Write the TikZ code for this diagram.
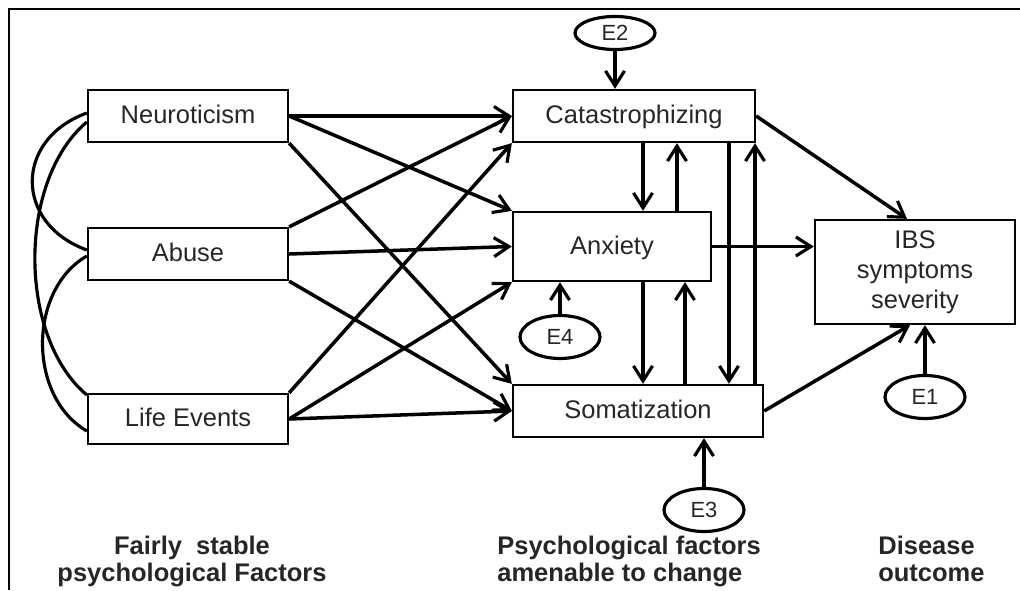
\documentclass[tikz,border=0pt]{standalone}
\usepackage{fontspec}
\setmainfont{Liberation Sans}
\usetikzlibrary{shapes.geometric,arrows.meta,positioning,calc}

\tikzset{
  boxbase/.style={draw, rectangle, line width=1.3pt, minimum height=1.04cm, inner sep=2pt,
    font=\fontsize{14.5}{17.2}\selectfont, text=black!85},
  box/.style={boxbase, text height=1.1em, text depth=0.21em},
  latent/.style={draw, ellipse, line width=1.8pt, minimum width=1.6cm, minimum height=0.86cm,
    inner sep=0pt, font=\fontsize{12.5}{14}\selectfont, text=black!85},
  arr/.style={line width=2pt, -{Straight Barb[length=3mm,width=3.8mm,line width=1.8pt]}},
  corr/.style={line width=1.8pt},
  group/.style={inner sep=0pt, font=\bfseries\fontsize{14.5}{15.5}\selectfont, text=black!85},
}

\begin{document}
\begin{tikzpicture}
    \useasboundingbox (0,0) rectangle (20.4,11.8);

    % Frame
    \draw[line width=1.7pt] (0.18,0) -- (0.18,11.62) -- (20.4,11.62);

    % Fairly stable factors
    \node[box, minimum width=4cm] (neu) at (3.76,9.48) {Neuroticism};
    \node[box, minimum width=4cm] (abu) at (3.76,6.72) {Abuse};
    \node[box, minimum width=4cm, minimum height=1.0cm] (lif) at (3.76,3.42) {Life Events};

    % Factors amenable to change
    \node[box, minimum width=4.84cm] (cat) at (12.68,9.48) {Catastrophizing};
    \node[box, minimum width=3.96cm, minimum height=1.38cm] (anx) at (12.24,6.87) {Anxiety};
    \node[box, minimum width=5cm] (som) at (12.76,3.58) {Somatization};

    % Outcome
    \node[boxbase, minimum width=4cm, minimum height=2.08cm, align=center] (ibs) at (18.3,6.36)
        {IBS\\symptoms\\severity};

    % Error terms
    \node[latent, minimum height=0.66cm] (e2) at (12.3,11.14) {E2};
    \node[latent] (e4) at (11.2,5.06) {E4};
    \node[latent] (e3) at (14.08,1.6) {E3};
    \node[latent] (e1) at (18.5,3.86) {E1};

    % Columns of the vertical paths
    \coordinate (c1) at (12.86,0);
    \coordinate (c2) at (13.54,0);
    \coordinate (c3) at (13.70,0);
    \coordinate (c4) at (14.58,0);
    \coordinate (c5) at (15.10,0);

    % Correlations
    \draw[corr] ([yshift=0.06cm]neu.west) to[out=200,in=160,looseness=1.45] ([yshift=0.08cm]abu.west);
    \draw[corr] ([yshift=-0.12cm]neu.west) to[out=220,in=140,looseness=0.85] ([yshift=0.48cm]lif.west);
    \draw[corr] ([yshift=-0.04cm]abu.west) to[out=210,in=150] ([yshift=-0.24cm]lif.west);

    % Stable factors -> psychological factors
    \draw[arr] (neu.east) -- (cat.west);
    \draw[arr] (neu.east) -- (anx.north west);
    \draw[arr] (neu.south east) -- (som.north west);
    \draw[arr] (abu.north east) -- (cat.west);
    \draw[arr] (abu.east) -- (anx.west);
    \draw[arr] (abu.south east) -- (som.west);
    \draw[arr] (lif.north east) -- (cat.south west);
    \draw[arr] (lif.east) -- (anx.south west);
    \draw[arr] (lif.east) -- (som.west);

    % Reciprocal paths
    \draw[arr] (c1 |- cat.south) -- (c1 |- anx.north);
    \draw[arr] (c2 |- anx.north) -- (c2 |- cat.south);
    \draw[arr] (c1 |- anx.south) -- (c1 |- som.north);
    \draw[arr] (c3 |- som.north) -- (c3 |- anx.south);
    \draw[arr] (c4 |- cat.south) -- (c4 |- som.north);
    \draw[arr] (c5 |- som.north) -- (c5 |- cat.south);

    % Paths to outcome
    \draw[arr] (cat.east) -- ([xshift=-0.16cm]ibs.north);
    \draw[arr] (anx.east) -- (anx.east -| ibs.west);
    \draw[arr] (som.east) -- ([xshift=-0.1cm]ibs.south);

    % Errors
    \draw[arr] (e2.south) -- (e2 |- cat.north);
    \draw[arr] (e4.north) -- (e4 |- anx.south);
    \draw[arr] (e3.north) -- (e3 |- som.south);
    \draw[arr] (e1.north) -- (e1 |- ibs.south);

    % Group labels
    \node[group, align=center, anchor=base] (stable) at (3.84,0.16) {Fairly\ \ stable\\psychological Factors};
    \node[group, align=left, anchor=base west] (change) at (9.94,0.16) {Psychological factors\\amenable to change};
    \node[group, align=left, anchor=base west] (outcome) at (17.56,0.16) {Disease\\outcome};
\end{tikzpicture}
\end{document}
